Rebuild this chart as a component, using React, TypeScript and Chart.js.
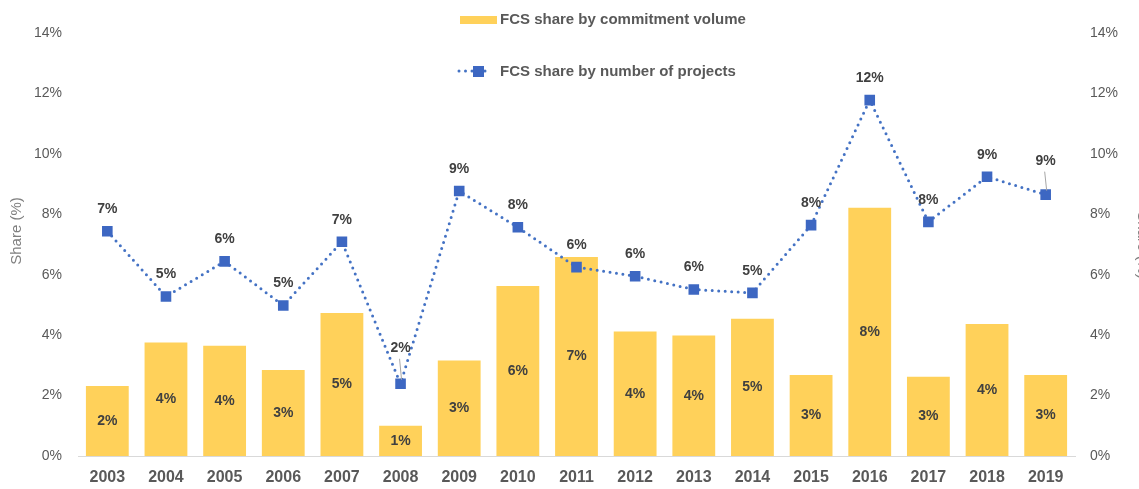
import React, { useEffect, useRef } from "react";
import { Chart, registerables } from "chart.js";

Chart.register(...registerables);

const years = ["2003","2004","2005","2006","2007","2008","2009","2010","2011","2012","2013","2014","2015","2016","2017","2018","2019"];
const volumeShare = [2.32, 3.76, 3.65, 2.85, 4.73, 1.0, 3.16, 5.63, 6.59, 4.12, 3.99, 4.54, 2.68, 8.22, 2.62, 4.37, 2.68];
const projectShare = [7.44, 5.28, 6.44, 4.98, 7.09, 2.39, 8.77, 7.57, 6.25, 5.95, 5.51, 5.40, 7.64, 11.78, 7.75, 9.24, 8.65];
const yTicks = [0, 2, 4, 6, 8, 10, 12, 14];
const seriesNames = ["FCS share by commitment volume", "FCS share by number of projects"];
const axisTitle = "Share (%)";

const BAR = "#FFD15A";
const BLUE = "#3D67C2";
const LINE = "#4472C4";
const FONT = "'Liberation Sans', Arial, sans-serif";

// label placement tweaks (index -> extra offset, with leader line)
const lineLabelLift: Record<number, number> = { 5: 36, 16: 34 };

const labelsPlugin = {
  id: "customLabels",
  afterDatasetsDraw(chart: any) {
    const ctx = chart.ctx;
    ctx.save();
    ctx.textAlign = "center";
    ctx.textBaseline = "middle";
    ctx.font = `bold 14px ${FONT}`;
    ctx.fillStyle = "#404040";
    const barMeta = chart.getDatasetMeta(0);
    barMeta.data.forEach((el: any, i: number) => {
      const v = chart.data.datasets[0].data[i];
      const cy = (el.y + el.base) / 2;
      ctx.fillText(Math.round(v) + "%", el.x, cy);
    });
    const lineMeta = chart.getDatasetMeta(1);
    lineMeta.data.forEach((el: any, i: number) => {
      const v = chart.data.datasets[1].data[i];
      const lift = lineLabelLift[i] ?? 22;
      const ly = el.y - lift;
      if (lineLabelLift[i] !== undefined) {
        ctx.strokeStyle = "#a6a6a6";
        ctx.lineWidth = 1;
        ctx.beginPath();
        ctx.moveTo(el.x - 1, ly + 11);
        ctx.lineTo(el.x + 1, el.y - 4);
        ctx.stroke();
      }
      ctx.fillStyle = "#404040";
      ctx.fillText(Math.round(v) + "%", el.x, ly);
    });
    ctx.restore();
  },
  afterDraw(chart: any) {
    const ctx = chart.ctx;
    ctx.save();
    // legend
    ctx.fillStyle = BAR;
    ctx.fillRect(460, 16, 37, 8);
    ctx.font = `bold 15px ${FONT}`;
    ctx.fillStyle = "#595959";
    ctx.textAlign = "left";
    ctx.textBaseline = "middle";
    ctx.fillText(chart.data.datasets[0].label, 500, 20);
    ctx.strokeStyle = LINE;
    ctx.lineWidth = 3;
    ctx.lineCap = "round";
    ctx.setLineDash([0, 6.5]);
    ctx.beginPath();
    ctx.moveTo(459, 71);
    ctx.lineTo(491, 71);
    ctx.stroke();
    ctx.setLineDash([]);
    ctx.fillStyle = BLUE;
    ctx.fillRect(473, 66, 11, 11);
    ctx.fillStyle = "#595959";
    ctx.fillText(chart.data.datasets[1].label, 500, 72);
    // axis titles
    ctx.font = `15px ${FONT}`;
    ctx.fillStyle = "#7f7f7f";
    ctx.textAlign = "center";
    ctx.translate(17, 231);
    ctx.rotate(-Math.PI / 2);
    ctx.fillText(axisTitle, 0, 0);
    ctx.setTransform(1, 0, 0, 1, 0, 0);
    ctx.translate(1142, 245);
    ctx.rotate(Math.PI / 2);
    ctx.fillText(axisTitle, 0, 0);
    ctx.restore();
  },
};

export default function App() {
  const ref = useRef<HTMLCanvasElement | null>(null);
  useEffect(() => {
    if (!ref.current) return;
    const tickCb = (v: any) => (yTicks.includes(Number(v)) ? v + "%" : "");
    const chart = new Chart(ref.current, {
      type: "bar",
      data: {
        labels: years,
        datasets: [
          {
            type: "bar",
            label: seriesNames[0],
            data: volumeShare,
            backgroundColor: BAR,
            yAxisID: "y",
            order: 1,
            categoryPercentage: 1,
            barPercentage: 0.73,
          },
          {
            type: "line",
            label: seriesNames[1],
            data: projectShare,
            yAxisID: "y1",
            order: 0,
            borderColor: LINE,
            borderWidth: 3,
            borderDash: [0, 6.5],
            borderCapStyle: "round",
            pointStyle: "rect",
            pointRadius: 7.5,
            pointBorderWidth: 0,
            pointBackgroundColor: BLUE,
            pointBorderColor: BLUE,
            tension: 0,
          } as any,
        ],
      },
      options: {
        animation: false,
        responsive: true,
        maintainAspectRatio: false,
        layout: { padding: { top: 33, left: 0, right: 0, bottom: 0 } },
        plugins: { legend: { display: false }, tooltip: { enabled: false } },
        scales: {
          x: {
            grid: { display: false, drawTicks: false },
            border: { display: true, color: "#d9d9d9", width: 1 },
            ticks: { color: "#595959", font: { family: FONT, size: 16, weight: "bold" }, padding: 12 },
            afterFit: (s: any) => { s.height = 33; },
          },
          y: {
            position: "left",
            min: 0,
            max: 14,
            grid: { display: false, drawTicks: false },
            border: { display: false },
            ticks: { stepSize: 2, callback: tickCb, color: "#595959", font: { family: FONT, size: 14 }, padding: 16 },
            afterFit: (s: any) => { s.width = 78; },
          },
          y1: {
            position: "right",
            min: 0,
            max: 14,
            grid: { display: false, drawTicks: false },
            border: { display: false },
            ticks: { stepSize: 2, callback: tickCb, color: "#595959", font: { family: FONT, size: 14 }, padding: 15 },
            afterFit: (s: any) => { s.width = 64; },
          },
        },
      } as any,
      plugins: [labelsPlugin],
    });
    return () => chart.destroy();
  }, []);
  return (
    <div style={{ position: "fixed", left: 0, top: 0, width: 1139, height: 489, background: "#fff" }}>
      <canvas ref={ref} />
    </div>
  );
}
